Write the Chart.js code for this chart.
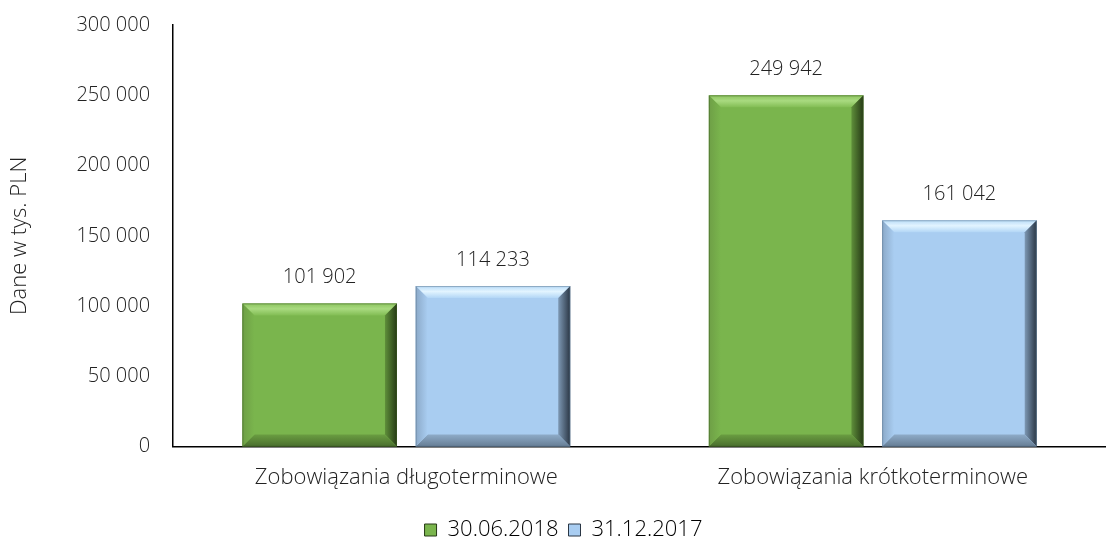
<!DOCTYPE html>
<html lang="pl">
  <head>
    <meta charset="UTF-8" />
    <title>Zobowiązania</title>
    <script src="https://cdn.jsdelivr.net/npm/chart.js"></script>
    <style>
      html, body { margin: 0; padding: 0; background: #fff; overflow: hidden; }
      #wrap { width: 1106px; height: 538px; }
    </style>
  </head>
  <body>
    <div id="wrap"><canvas id="chart"></canvas></div>
    <script>
      // Dane
      const categories = ["Zobowiązania długoterminowe", "Zobowiązania krótkoterminowe"];
      const seriesNames = ["30.06.2018", "31.12.2017"];
      const values2018 = [101902, 249942];
      const values2017 = [114233, 161042];
      const yTicks = [0, 50000, 100000, 150000, 200000, 250000, 300000];

      const fontFam = "'Open Sans', 'Noto Sans', sans-serif";
      const fmt = (v) => String(v).replace(/\B(?=(\d{3})+(?!\d))/g, " ");

      // wypukłe (bevel) słupki jak w Excelu
      const bevelPlugin = {
        id: "bevel",
        afterDatasetsDraw(chart) {
          const ctx = chart.ctx;
          chart.data.datasets.forEach((ds, i) => {
            const meta = chart.getDatasetMeta(i);
            const sh = ds.shades;
            meta.data.forEach((bar) => {
              const l = bar.x - bar.width / 2, r = bar.x + bar.width / 2;
              const t = bar.y, b = bar.base, e = 12;
              ctx.save();
              // góra
              let g = ctx.createLinearGradient(0, t, 0, t + e);
              g.addColorStop(0, sh.top0); g.addColorStop(0.45, sh.topMid); g.addColorStop(1, sh.top1);
              ctx.fillStyle = g;
              ctx.beginPath(); ctx.moveTo(l, t); ctx.lineTo(r, t); ctx.lineTo(r - e, t + e); ctx.lineTo(l + e, t + e); ctx.closePath(); ctx.fill();
              // prawa
              g = ctx.createLinearGradient(r - e, 0, r, 0);
              g.addColorStop(0, sh.right0); g.addColorStop(1, sh.right1);
              ctx.fillStyle = g;
              ctx.beginPath(); ctx.moveTo(r, t); ctx.lineTo(r, b); ctx.lineTo(r - e, b - e); ctx.lineTo(r - e, t + e); ctx.closePath(); ctx.fill();
              // dół
              g = ctx.createLinearGradient(0, b - e, 0, b);
              g.addColorStop(0, sh.bot0); g.addColorStop(1, sh.bot1);
              ctx.fillStyle = g;
              ctx.beginPath(); ctx.moveTo(l, b); ctx.lineTo(r, b); ctx.lineTo(r - e, b - e); ctx.lineTo(l + e, b - e); ctx.closePath(); ctx.fill();
              // lewa
              g = ctx.createLinearGradient(l, 0, l + e, 0);
              g.addColorStop(0, sh.left0); g.addColorStop(1, sh.left1);
              ctx.fillStyle = g;
              ctx.beginPath(); ctx.moveTo(l, t); ctx.lineTo(l + e, t + e); ctx.lineTo(l + e, b - e); ctx.lineTo(l, b); ctx.closePath(); ctx.fill();
              ctx.strokeStyle = sh.edge; ctx.lineWidth = 1;
              ctx.strokeRect(l + 0.5, t + 0.5, r - l - 1, b - t - 1);
              ctx.restore();
            });
          });
        },
      };

      // etykiety wartości nad słupkami
      const labelPlugin = {
        id: "valueLabels",
        afterDatasetsDraw(chart) {
          const ctx = chart.ctx;
          ctx.save();
          ctx.font = "300 20px " + fontFam;
          ctx.fillStyle = "#222";
          ctx.textAlign = "center";
          ctx.textBaseline = "middle";
          chart.data.datasets.forEach((ds, i) => {
            chart.getDatasetMeta(i).data.forEach((bar, j) => {
              ctx.fillText(fmt(ds.data[j]), bar.x, bar.y - 26);
            });
          });
          ctx.restore();
        },
      };

      new Chart(document.getElementById("chart"), {
        type: "bar",
        data: {
          labels: categories,
          datasets: [
            {
              label: seriesNames[0],
              data: values2018,
              backgroundColor: "#7ab54d",
              shades: {
                top0: "#8cc45e", topMid: "#a9da80", top1: "#82bd54", right0: "#5f8f3a", right1: "#263a16",
                bot0: "#6a9d41", bot1: "#4a6e2e", left0: "#6e9f46", left1: "#7ab54d", edge: "rgba(60,90,35,0.5)",
              },
            },
            {
              label: seriesNames[1],
              data: values2017,
              backgroundColor: "#a9cdf1",
              shades: {
                top0: "#b9dcf8", topMid: "#e2f4ff", top1: "#b2d6f6", right0: "#7d98b4", right1: "#2a3644",
                bot0: "#8eabc8", bot1: "#667d94", left0: "#8ba9c8", left1: "#a9cdf1", edge: "rgba(90,115,140,0.5)",
              },
            },
          ],
        },
        options: {
          responsive: true,
          maintainAspectRatio: false,
          animation: false,
          categoryPercentage: 0.743,
          barPercentage: 0.892,
          layout: { padding: { top: 25, right: -14, left: 7, bottom: -13 } },
          plugins: {
            tooltip: { enabled: false },
            legend: {
              position: "bottom",
              labels: {
                font: { family: fontFam, size: 22, weight: "300" },
                color: "#222",
                boxWidth: 12,
                boxHeight: 12,
                padding: 10,
                generateLabels(chart) {
                  return chart.data.datasets.map((ds, i) => ({
                    text: ds.label,
                    fillStyle: ds.backgroundColor,
                    strokeStyle: ds.shades.right1,
                    lineWidth: 1,
                    datasetIndex: i,
                  }));
                },
              },
            },
          },
          scales: {
            x: {
              grid: { display: false, drawTicks: false },
              border: { color: "#000", width: 1.5 },
              ticks: { font: { family: fontFam, size: 22, weight: "300" }, color: "#222", padding: 18 },
            },
            y: {
              min: 0,
              max: 300000,
              afterBuildTicks(axis) {
                axis.ticks = yTicks.map((v) => ({ value: v }));
              },
              afterFit(axis) {
                axis.paddingTop = 12;
                axis.paddingBottom = 12;
              },
              grid: { display: false, drawTicks: false },
              border: { color: "#000", width: 1.5 },
              title: {
                display: true,
                text: "Dane w tys. PLN",
                font: { family: fontFam, size: 22, weight: "300" },
                color: "#222",
                padding: { top: 0, bottom: 20 },
              },
              ticks: {
                font: { family: fontFam, size: 20, weight: "300" },
                color: "#222",
                padding: 23,
                callback: (v) => fmt(v),
              },
            },
          },
        },
        plugins: [bevelPlugin, labelPlugin],
      });
    </script>
  </body>
</html>
